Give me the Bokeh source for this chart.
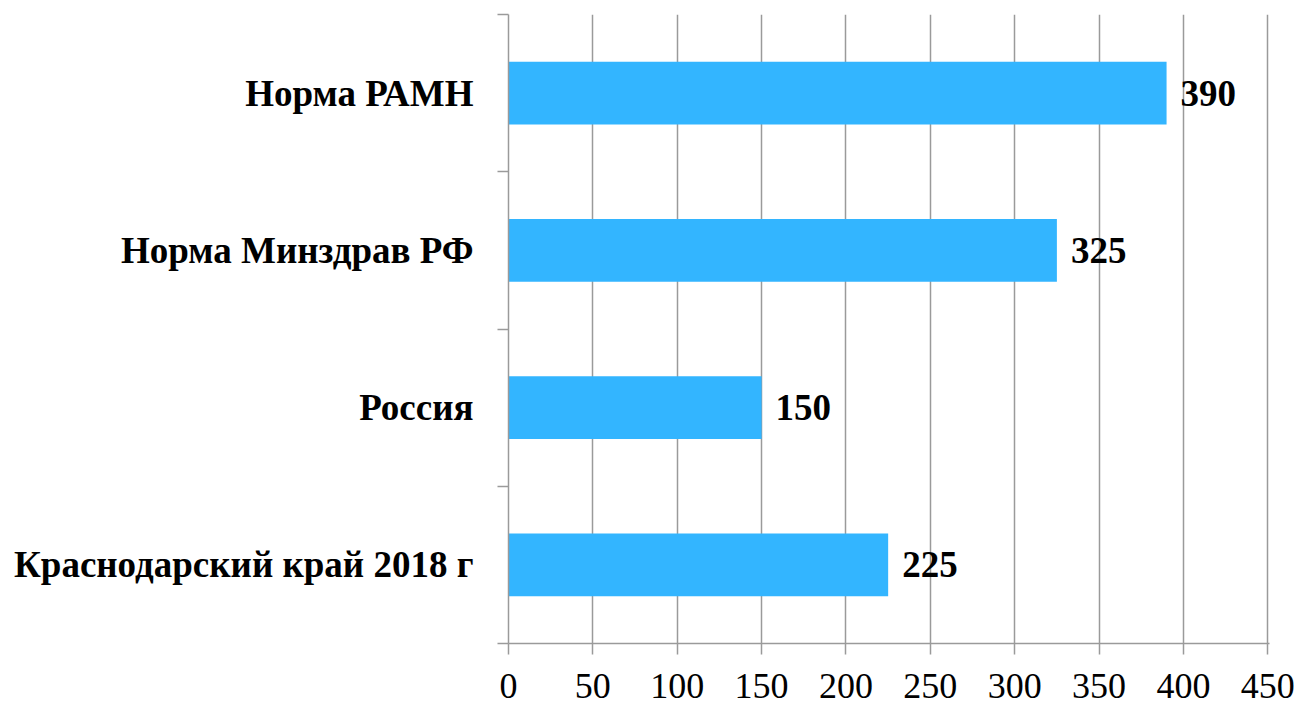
from bokeh.plotting import figure
from bokeh.models import FixedTicker, Range1d, ColumnDataSource, LabelSet
from bokeh.embed import file_html
from bokeh.resources import INLINE

categories = ["Краснодарский край 2018 г", "Россия", "Норма Минздрав РФ", "Норма РАМН"]
values = [225, 150, 325, 390]
x_ticks = [0, 50, 100, 150, 200, 250, 300, 350, 400, 450]

ys = [i + 0.5 for i in range(len(categories))]
src = ColumnDataSource(dict(y=ys, v=values, t=[str(v) for v in values]))

GREY = "#9a9a9a"
FONT = "Liberation Serif"

p = figure(width=1301, height=704, x_range=Range1d(0, 451), y_range=Range1d(0, len(categories)),
           output_backend="svg", toolbar_location=None,
           min_border_left=508, min_border_right=32, min_border_top=14, min_border_bottom=61)
p.outline_line_color = None
p.background_fill_color = "white"

p.hbar(y="y", left=0, right="v", height=0.4, source=src, fill_color="#33B5FF", line_color=None)

labels = LabelSet(x="v", y="y", text="t", source=src, x_offset=14, text_baseline="middle",
                  text_font=FONT, text_font_style="bold", text_font_size="37px", text_color="black")
p.add_layout(labels)

# x axis
p.xaxis.ticker = FixedTicker(ticks=x_ticks)
p.xaxis.major_tick_out = 11
p.xaxis.major_tick_in = 0
p.xaxis.minor_tick_out = 0
p.xaxis.minor_tick_in = 0
p.xaxis.axis_line_color = GREY
p.xaxis.axis_line_width = 1.5
p.xaxis.major_tick_line_color = GREY
p.xaxis.major_tick_line_width = 1.5
p.xaxis.major_label_text_font = FONT
p.xaxis.major_label_text_font_size = "36px"
p.xaxis.major_label_text_color = "black"
p.xaxis.major_label_text_line_height = 0.6
p.xaxis.major_label_standoff = 19

# y axis
p.yaxis.ticker = FixedTicker(ticks=ys, minor_ticks=list(range(len(categories) + 1)))
p.yaxis.major_label_overrides = {y: c for y, c in zip(ys, categories)}
p.yaxis.major_tick_out = 0
p.yaxis.major_tick_in = 0
p.yaxis.minor_tick_out = 11
p.yaxis.minor_tick_in = 0
p.yaxis.minor_tick_line_color = GREY
p.yaxis.minor_tick_line_width = 1.5
p.yaxis.axis_line_color = GREY
p.yaxis.axis_line_width = 1.5
p.yaxis.major_label_text_font = FONT
p.yaxis.major_label_text_font_style = "bold"
p.yaxis.major_label_text_font_size = "37px"
p.yaxis.major_label_text_color = "black"
p.yaxis.major_label_standoff = 24

p.xgrid.ticker = FixedTicker(ticks=x_ticks)
p.xgrid.grid_line_color = GREY
p.xgrid.grid_line_width = 1.5
p.ygrid.visible = False

open("out.html", "w").write(file_html(p, INLINE))
